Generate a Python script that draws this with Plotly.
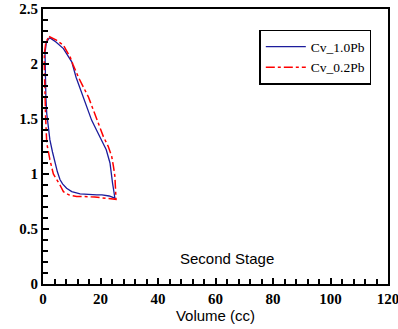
import plotly.graph_objects as go

# Blue curve: Cv_1.0Pb
blue_x = [2.3, 4.5, 7.1, 10.0, 11.5, 13.5, 15.2, 16.9, 18.6, 20.4, 22.0, 23.3, 23.8, 24.2, 24.6, 25.0,
          23.0, 20.5, 18.7, 15.5, 12.9, 10.0, 8.2, 6.8, 5.9, 5.0, 4.2, 3.3, 2.4, 1.8, 1.3, 1.0, 0.9, 0.8, 0.7, 1.2, 2.3]
blue_y = [2.24, 2.20, 2.14, 2.02, 1.88, 1.73, 1.61, 1.49, 1.40, 1.31, 1.22, 1.10, 1.02, 0.915, 0.85, 0.78,
          0.80, 0.81, 0.81, 0.815, 0.82, 0.84, 0.87, 0.91, 0.95, 1.02, 1.10, 1.20, 1.31, 1.42, 1.55, 1.70, 1.85, 2.0, 2.1, 2.2, 2.24]

# Red curve: Cv_0.2Pb
red_x = [2.1, 4.5, 7.1, 9.5, 10.5, 12.5, 15.8, 18.5, 21.0, 22.7, 23.9, 24.5, 25.0, 25.4,
         22.0, 18.0, 14.5, 11.7, 9.0, 7.1, 5.9, 4.6, 3.6, 2.4, 1.8, 1.3, 0.9, 0.6, 0.45, 0.5, 1.0, 2.1]
red_y = [2.25, 2.22, 2.17, 2.06, 1.99, 1.87, 1.70, 1.52, 1.34, 1.25, 1.16, 1.07, 0.98, 0.77,
         0.78, 0.79, 0.795, 0.795, 0.81, 0.84, 0.90, 0.95, 1.0, 1.13, 1.20, 1.28, 1.52, 1.75, 2.0, 2.1, 2.2, 2.25]

series_names = ["Cv_1.0Pb", "Cv_0.2Pb"]
x_title = "Volume (cc)"
annotation_text = "Second Stage"

fig = go.Figure()
fig.add_trace(go.Scatter(x=blue_x, y=blue_y, mode="lines", name=series_names[0],
                         line=dict(color="#1c1c9c", width=1.3)))
fig.add_trace(go.Scatter(x=red_x, y=red_y, mode="lines", name=series_names[1],
                         line=dict(color="#ff0000", width=1.5, dash="dashdot")))

axis_common = dict(
    showline=True, linecolor="black", linewidth=2, mirror=True,
    ticks="inside", ticklen=6, tickwidth=1.5, tickcolor="black",
    showgrid=False, zeroline=False, automargin=False, ticklabeloverflow="allow",
    tickfont=dict(family="Liberation Serif", size=15, color="black", weight="bold"),
)

fig.update_xaxes(range=[0, 120], dtick=20,
                 minor=dict(ticks="inside", dtick=4, ticklen=5, tickcolor="black", tickwidth=1.5),
                 title=dict(text=x_title, font=dict(family="Liberation Sans", size=15, color="black"),
                            standoff=0),
                 **axis_common)
fig.update_yaxes(range=[0, 2.5], dtick=0.5,
                 minor=dict(ticks="inside", dtick=0.1, ticklen=5, tickcolor="black", tickwidth=1.5),
                 **axis_common)

fig.add_annotation(x=64, y=0.236, xref="x", yref="y", text=annotation_text, showarrow=False,
                   font=dict(family="Liberation Sans", size=15, color="black"))

fig.update_layout(
    width=398, height=329,
    margin=dict(l=43, r=10, t=9, b=45, autoexpand=False),
    paper_bgcolor="white", plot_bgcolor="white",
    legend=dict(x=0.627, y=0.924, xanchor="left", yanchor="top",
                bordercolor="black", borderwidth=1.5, bgcolor="white",
                font=dict(family="Liberation Serif", size=13.5, color="black"),
                tracegroupgap=0, itemwidth=40),
    showlegend=True,
)

fig.write_html("out.html", config={"displayModeBar": False},
               post_script="document.body.style.margin='0';document.body.style.overflow='hidden';")
